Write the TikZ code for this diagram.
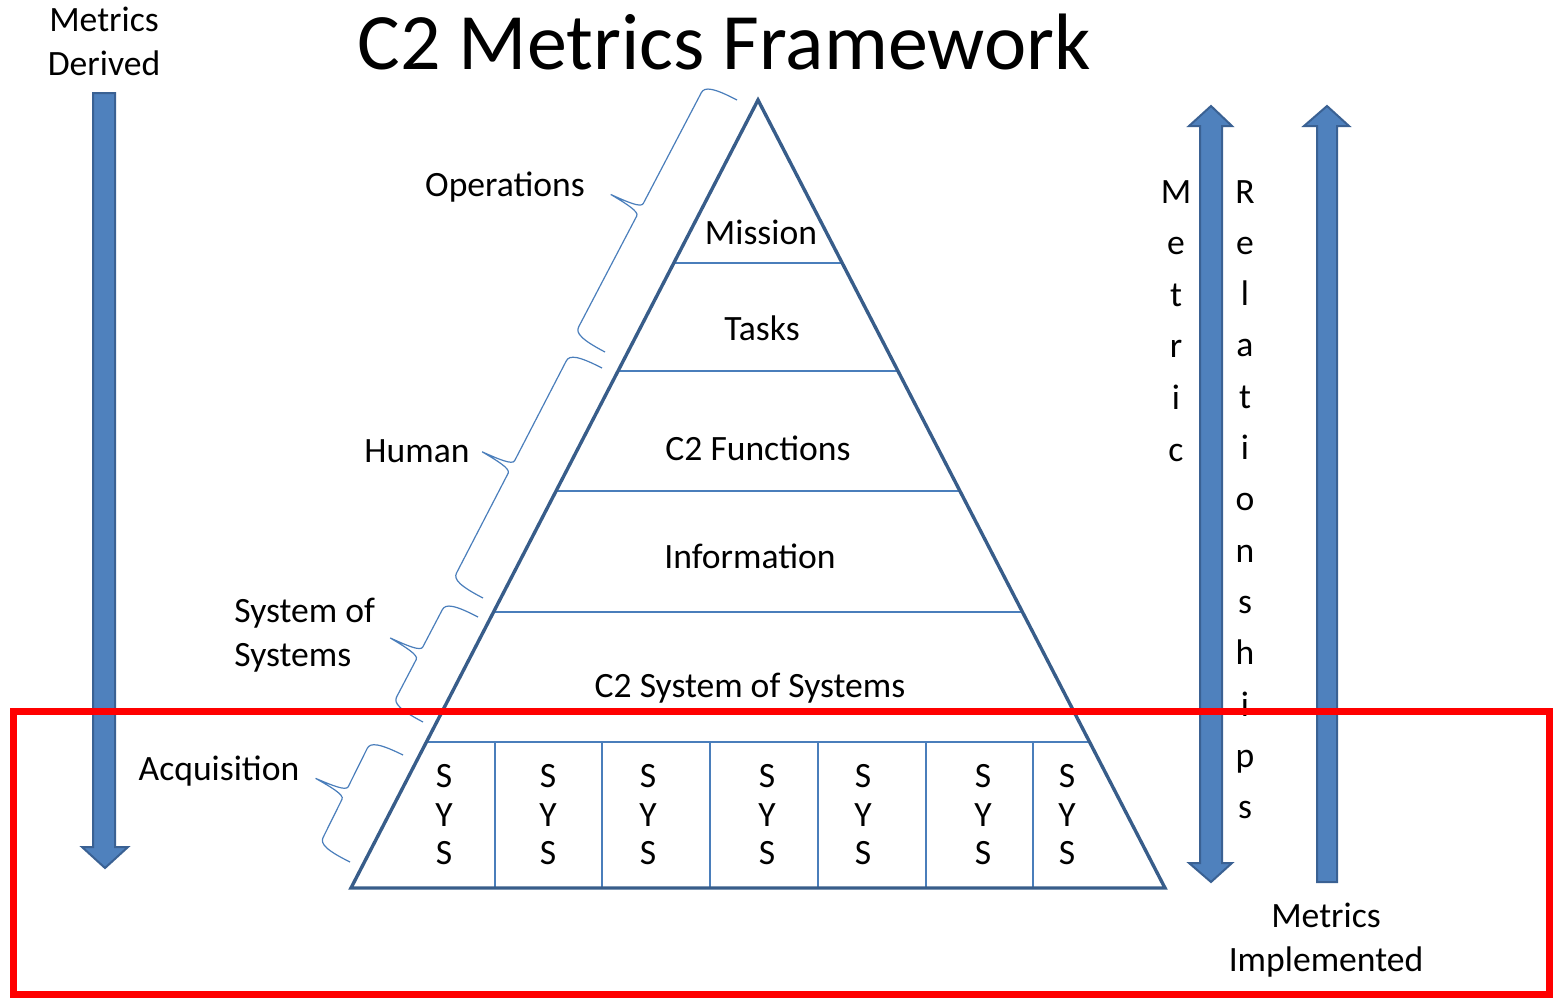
\documentclass[tikz,border=0pt]{standalone}
\usepackage{fontspec}
\setmainfont{Carlito}
\definecolor{arrowfill}{HTML}{4F81BD}
\definecolor{arrowedge}{HTML}{3A6193}
\definecolor{triedge}{HTML}{385D8A}
\definecolor{thinblue}{HTML}{4A7EBB}
\newcommand\mybracefig[4]{%
  \pgfmathsetmacro\bdx{#3-#1}\pgfmathsetmacro\bdy{#2-#4}%
  \pgfmathsetmacro\bL{veclen(\bdx,\bdy)}\pgfmathsetmacro\bth{atan2(\bdy,\bdx)}%
  \pgfmathsetmacro\bm{\bL/2}%
  \begin{scope}[shift={(#1,#2)}, rotate=\bth]
    \draw[bracestyle] (0,0) .. controls (0,-26) and (3,-35) .. (10,-35)
      -- ({\bm-7},-35) .. controls ({\bm-2},-35) and ({\bm-1},-50) .. (\bm,-68)
      .. controls ({\bm+1},-50) and ({\bm+2},-35) .. ({\bm+7},-35)
      -- ({\bL-10},-35) .. controls ({\bL-3},-35) and (\bL,-26) .. (\bL,0);
  \end{scope}}
\begin{document}
\begin{tikzpicture}[x=0.5pt,y=-0.5pt,
  lbl/.style={font=\fontsize{17.8}{22}\selectfont, inner sep=0pt, align=center},
  letter/.style={font=\fontsize{17.8}{22}\selectfont, inner sep=0pt, anchor=base},
  fatarrow/.style={fill=arrowfill, draw=arrowedge, line width=1pt, line join=miter},
  bracestyle/.style={draw=thinblue, line width=0.6pt},
  layerline/.style={draw=thinblue, line width=0.7pt},
  frame/.style={draw=red, line width=3.5pt}]
\useasboundingbox (0,0) rectangle (1554,998);

% title
\node[font=\fontsize{40}{46}\selectfont, inner sep=0pt] (title) at (724,42) {C2 Metrics Framework};

% left arrow (metrics derived)
\path[fatarrow] (93,93) -- (115,93) -- (115,847) -- (128,847) -- (105,868) -- (82,847) -- (93,847) -- cycle;
\node[lbl] (derived) at (104,41) {Metrics\\Derived};

% double arrow
\path[fatarrow] (1211,106) -- (1232,126) -- (1222,126) -- (1222,863) -- (1232,863) -- (1211,882) -- (1189,863) -- (1200,863) -- (1200,126) -- (1189,126) -- cycle;
% up arrow
\path[fatarrow] (1327,106) -- (1349,126) -- (1337,126) -- (1337,882) -- (1317,882) -- (1317,126) -- (1304,126) -- cycle;
\node[lbl] (implemented) at (1326,940) {Metrics\\Implemented};

% vertical words
\foreach \ch [count=\k from 0] in {M,e,t,r,i,c}
  \node[letter] (metric\k) at (1176,{203+51.6*\k}) {\ch};
\foreach \ch [count=\k from 0] in {R,e,l,a,t,i,o,n,s,h,i,p,s}
  \node[letter] (rel\k) at (1245,{203+51.3*\k}) {\ch};

% pyramid layers
\coordinate (apex) at (758,100);
\coordinate (bl) at (351,888);
\coordinate (br) at (1165,888);
\foreach \yy in {263,371,491,612,742}
  \draw[layerline] ({758-(\yy-100)*0.5165},\yy) -- ({758+(\yy-100)*0.5165},\yy);
\foreach \xx in {495,602,710,818,926,1033}
  \draw[layerline] (\xx,742) -- (\xx,888);
\draw[draw=triedge, line width=1.7pt, line join=miter] (apex) -- (br) -- (bl) -- cycle;

\node[lbl] (mission) at (761,232) {Mission};
\node[lbl] (tasks) at (762,328) {Tasks};
\node[lbl] (functions) at (758,448) {C2 Functions};
\node[lbl] (information) at (750,556) {Information};
\node[lbl] (sos) at (750,688) {C2 System of Systems};

\foreach \xx [count=\k] in {444,548,648,767,863,983,1067} {
  \node[letter] (sysa\k) at (\xx,787) {S};
  \node[letter] (sysb\k) at (\xx,826) {Y};
  \node[letter] (sysc\k) at (\xx,864) {S};
}

% braces
\mybracefig{605}{352}{737}{100}
\mybracefig{483}{598}{602}{368}
\mybracefig{423}{722}{478}{617}
\mybracefig{350}{862}{403}{755}

\node[lbl] (operations) at (505,187) {Operations};
\node[lbl] (human) at (417,451) {Human};
\node[lbl, align=left, anchor=west] (sysofsys) at (234,635) {System of\\Systems};
\node[lbl] (acquisition) at (219,771) {Acquisition};

% red frame
\draw[frame] (13.5,711.5) rectangle (1549.5,994.5);
\end{tikzpicture}
\end{document}
